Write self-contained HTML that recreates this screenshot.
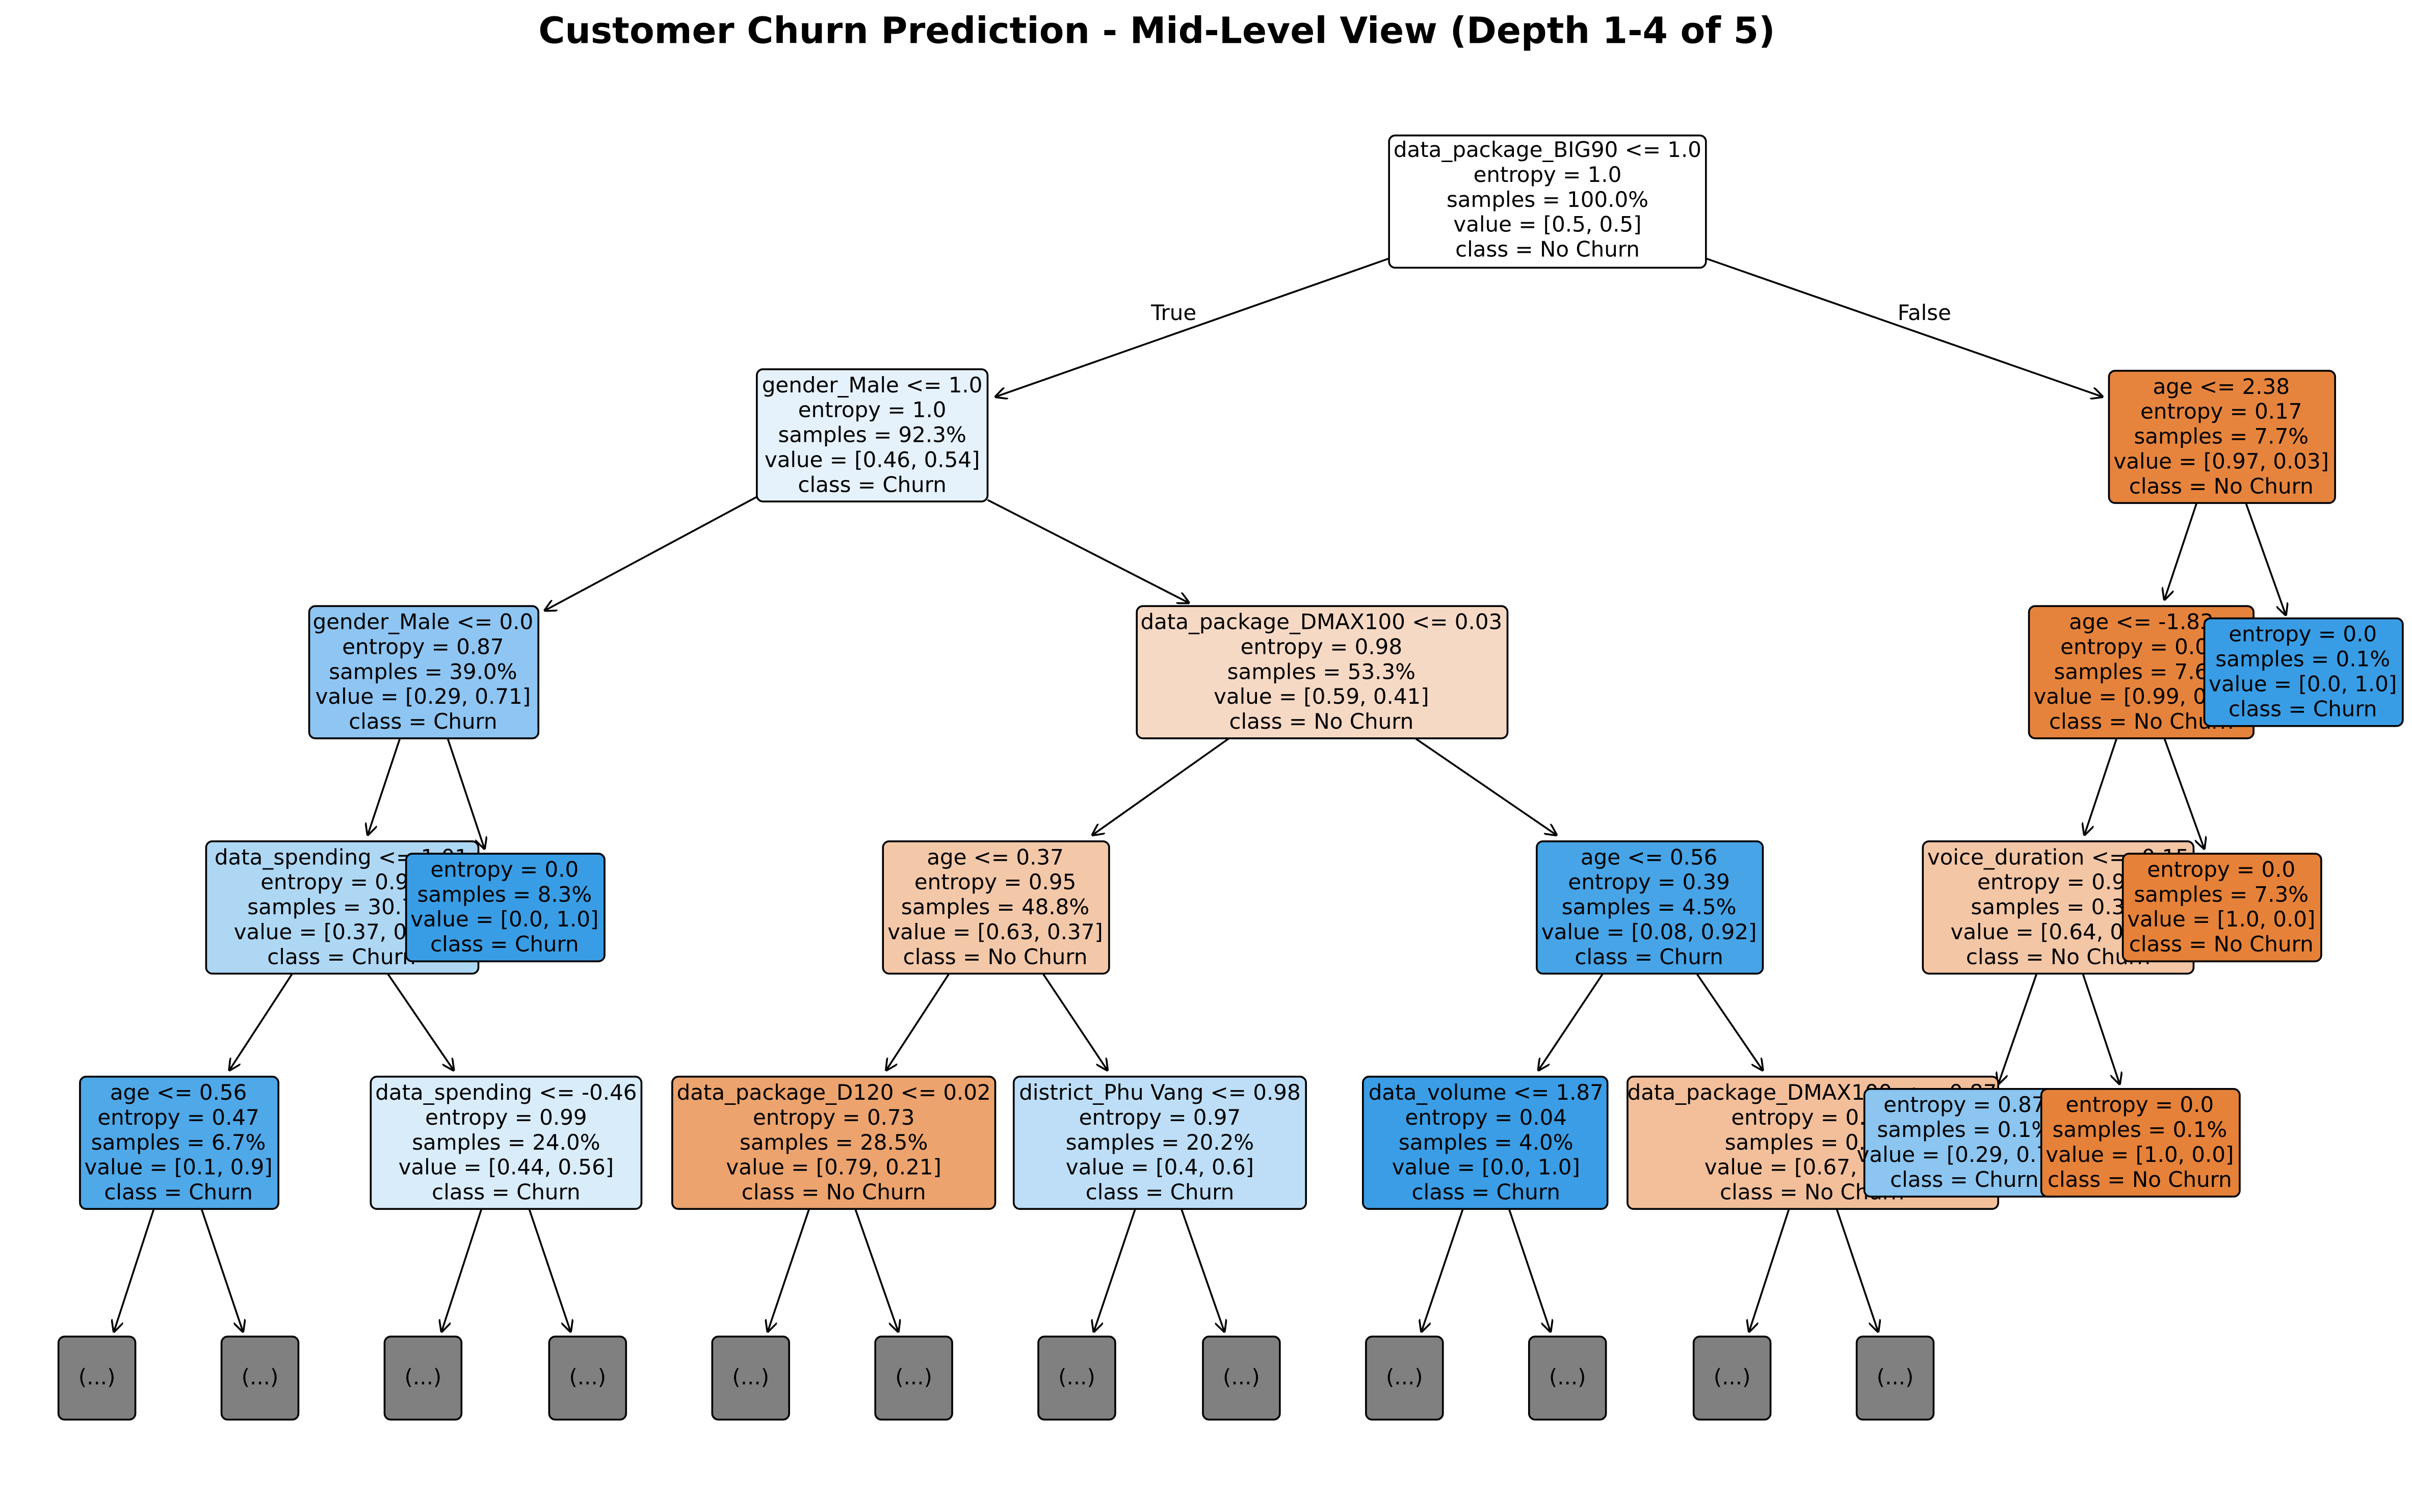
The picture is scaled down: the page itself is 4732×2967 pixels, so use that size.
<!DOCTYPE html>
<html><head><meta charset="utf-8"><style>
html,body{margin:0;padding:0;background:#fff;}
svg{display:block;}
text{font-family:"DejaVu Sans","Liberation Sans",sans-serif;font-size:13.9px;fill:#000;}
.b{stroke:#000;stroke-width:1.2;}
.e{stroke:#000;stroke-width:1.2;fill:none;marker-end:url(#ah);}
</style></head><body>
<svg width="4732" height="2967" viewBox="0 0 1568 983" xmlns="http://www.w3.org/2000/svg">
<defs><marker id="ah" viewBox="0 0 10 10" refX="9.5" refY="5" markerWidth="8" markerHeight="8" markerUnits="userSpaceOnUse" orient="auto"><path d="M0,0 L10,5 L0,10" fill="none" stroke="#000" stroke-width="1.5"/></marker></defs>
<text x="752" y="28" text-anchor="middle" style="font-size:23.5px;font-weight:bold">Customer Churn Prediction - Mid-Level View (Depth 1-4 of 5)</text>

<!-- edges -->
<line class="e" x1="903" y1="168" x2="647" y2="258"/>
<line class="e" x1="1109" y1="168" x2="1367" y2="258"/>
<text x="763" y="208" text-anchor="middle">True</text>
<text x="1251" y="208" text-anchor="middle">False</text>
<line class="e" x1="492" y1="323" x2="354" y2="397"/>
<line class="e" x1="642" y1="325" x2="773" y2="392"/>
<line class="e" x1="1428" y1="327" x2="1407" y2="390"/>
<line class="e" x1="1460" y1="327" x2="1486" y2="400"/>
<line class="e" x1="260" y1="480" x2="239" y2="543"/>
<line class="e" x1="291" y1="480" x2="315" y2="552"/>
<line class="e" x1="799" y1="480" x2="710" y2="543"/>
<line class="e" x1="920" y1="480" x2="1012" y2="543"/>
<line class="e" x1="1376" y1="480" x2="1355" y2="543"/>
<line class="e" x1="1407" y1="480" x2="1433" y2="552"/>
<line class="e" x1="190" y1="633" x2="149" y2="696"/>
<line class="e" x1="252" y1="633" x2="295" y2="696"/>
<line class="e" x1="617" y1="633" x2="576" y2="696"/>
<line class="e" x1="678" y1="633" x2="720" y2="696"/>
<line class="e" x1="1042" y1="633" x2="1000" y2="696"/>
<line class="e" x1="1103" y1="633" x2="1146" y2="696"/>
<line class="e" x1="1324" y1="633" x2="1299" y2="705"/>
<line class="e" x1="1354" y1="633" x2="1378" y2="705"/>
<line class="e" x1="100" y1="786" x2="74" y2="866"/>
<line class="e" x1="131" y1="786" x2="158" y2="866"/>
<line class="e" x1="313" y1="786" x2="287" y2="866"/>
<line class="e" x1="344" y1="786" x2="371" y2="866"/>
<line class="e" x1="526" y1="786" x2="499" y2="866"/>
<line class="e" x1="556" y1="786" x2="584" y2="866"/>
<line class="e" x1="738" y1="786" x2="711" y2="866"/>
<line class="e" x1="768" y1="786" x2="796" y2="866"/>
<line class="e" x1="951" y1="786" x2="924" y2="866"/>
<line class="e" x1="981" y1="786" x2="1008" y2="866"/>
<line class="e" x1="1163" y1="786" x2="1137" y2="866"/>
<line class="e" x1="1194" y1="786" x2="1221" y2="866"/>

<!-- nodes -->
<g>
<rect class="b" x="903" y="88" width="206" height="86" rx="4" fill="#ffffff"/>
<text x="1006" y="102" text-anchor="middle"><tspan x="1006">data_package_BIG90 &lt;= 1.0</tspan><tspan x="1006" dy="16.2">entropy = 1.0</tspan><tspan x="1006" dy="16.2">samples = 100.0%</tspan><tspan x="1006" dy="16.2">value = [0.5, 0.5]</tspan><tspan x="1006" dy="16.2">class = No Churn</tspan></text>
</g>
<g>
<rect class="b" x="492" y="240" width="150" height="86" rx="4" fill="#e5f1fb"/>
<text x="567" y="255" text-anchor="middle"><tspan x="567">gender_Male &lt;= 1.0</tspan><tspan x="567" dy="16.2">entropy = 1.0</tspan><tspan x="567" dy="16.2">samples = 92.3%</tspan><tspan x="567" dy="16.2">value = [0.46, 0.54]</tspan><tspan x="567" dy="16.2">class = Churn</tspan></text>
</g>
<g>
<rect class="b" x="1371" y="241" width="147" height="86" rx="4" fill="#e6843e"/>
<text x="1444" y="256" text-anchor="middle"><tspan x="1444">age &lt;= 2.38</tspan><tspan x="1444" dy="16.2">entropy = 0.17</tspan><tspan x="1444" dy="16.2">samples = 7.7%</tspan><tspan x="1444" dy="16.2">value = [0.97, 0.03]</tspan><tspan x="1444" dy="16.2">class = No Churn</tspan></text>
</g>
<g>
<rect class="b" x="201" y="394" width="149" height="86" rx="4" fill="#8ec5f2"/>
<text x="275" y="409" text-anchor="middle"><tspan x="275">gender_Male &lt;= 0.0</tspan><tspan x="275" dy="16.2">entropy = 0.87</tspan><tspan x="275" dy="16.2">samples = 39.0%</tspan><tspan x="275" dy="16.2">value = [0.29, 0.71]</tspan><tspan x="275" dy="16.2">class = Churn</tspan></text>
</g>
<g>
<rect class="b" x="739" y="394" width="241" height="86" rx="4" fill="#f6d9c4"/>
<text x="859" y="409" text-anchor="middle"><tspan x="859">data_package_DMAX100 &lt;= 0.03</tspan><tspan x="859" dy="16.2">entropy = 0.98</tspan><tspan x="859" dy="16.2">samples = 53.3%</tspan><tspan x="859" dy="16.2">value = [0.59, 0.41]</tspan><tspan x="859" dy="16.2">class = No Churn</tspan></text>
</g>
<g>
<rect class="b" x="1319" y="394" width="146" height="86" rx="4" fill="#e5833c"/>
<text x="1392" y="409" text-anchor="middle"><tspan x="1392">age &lt;= -1.83</tspan><tspan x="1392" dy="16.2">entropy = 0.08</tspan><tspan x="1392" dy="16.2">samples = 7.6%</tspan><tspan x="1392" dy="16.2">value = [0.99, 0.01]</tspan><tspan x="1392" dy="16.2">class = No Churn</tspan></text>
</g>
<g>
<rect class="b" x="1433" y="402" width="129" height="70" rx="4" fill="#399de5"/>
<text x="1497" y="417" text-anchor="middle"><tspan x="1497">entropy = 0.0</tspan><tspan x="1497" dy="16.2">samples = 0.1%</tspan><tspan x="1497" dy="16.2">value = [0.0, 1.0]</tspan><tspan x="1497" dy="16.2">class = Churn</tspan></text>
</g>
<g>
<rect class="b" x="134" y="547" width="177" height="86" rx="4" fill="#aed7f4"/>
<text x="222" y="562" text-anchor="middle"><tspan x="222">data_spending &lt;= 1.01</tspan><tspan x="222" dy="16.2">entropy = 0.95</tspan><tspan x="222" dy="16.2">samples = 30.7%</tspan><tspan x="222" dy="16.2">value = [0.37, 0.63]</tspan><tspan x="222" dy="16.2">class = Churn</tspan></text>
</g>
<g>
<rect class="b" x="264" y="555" width="129" height="70" rx="4" fill="#399de5"/>
<text x="328" y="570" text-anchor="middle"><tspan x="328">entropy = 0.0</tspan><tspan x="328" dy="16.2">samples = 8.3%</tspan><tspan x="328" dy="16.2">value = [0.0, 1.0]</tspan><tspan x="328" dy="16.2">class = Churn</tspan></text>
</g>
<g>
<rect class="b" x="574" y="547" width="147" height="86" rx="4" fill="#f3c8a8"/>
<text x="647" y="562" text-anchor="middle"><tspan x="647">age &lt;= 0.37</tspan><tspan x="647" dy="16.2">entropy = 0.95</tspan><tspan x="647" dy="16.2">samples = 48.8%</tspan><tspan x="647" dy="16.2">value = [0.63, 0.37]</tspan><tspan x="647" dy="16.2">class = No Churn</tspan></text>
</g>
<g>
<rect class="b" x="999" y="547" width="147" height="86" rx="4" fill="#47a4e7"/>
<text x="1072" y="562" text-anchor="middle"><tspan x="1072">age &lt;= 0.56</tspan><tspan x="1072" dy="16.2">entropy = 0.39</tspan><tspan x="1072" dy="16.2">samples = 4.5%</tspan><tspan x="1072" dy="16.2">value = [0.08, 0.92]</tspan><tspan x="1072" dy="16.2">class = Churn</tspan></text>
</g>
<g>
<rect class="b" x="1250" y="547" width="176" height="86" rx="4" fill="#f3c6a5"/>
<text x="1338" y="562" text-anchor="middle"><tspan x="1338">voice_duration &lt;= -0.15</tspan><tspan x="1338" dy="16.2">entropy = 0.94</tspan><tspan x="1338" dy="16.2">samples = 0.3%</tspan><tspan x="1338" dy="16.2">value = [0.64, 0.36]</tspan><tspan x="1338" dy="16.2">class = No Churn</tspan></text>
</g>
<g>
<rect class="b" x="1380" y="555" width="129" height="70" rx="4" fill="#e58139"/>
<text x="1444" y="570" text-anchor="middle"><tspan x="1444">entropy = 0.0</tspan><tspan x="1444" dy="16.2">samples = 7.3%</tspan><tspan x="1444" dy="16.2">value = [1.0, 0.0]</tspan><tspan x="1444" dy="16.2">class = No Churn</tspan></text>
</g>
<g>
<rect class="b" x="52" y="700" width="129" height="86" rx="4" fill="#4fa8e8"/>
<text x="116" y="715" text-anchor="middle"><tspan x="116">age &lt;= 0.56</tspan><tspan x="116" dy="16.2">entropy = 0.47</tspan><tspan x="116" dy="16.2">samples = 6.7%</tspan><tspan x="116" dy="16.2">value = [0.1, 0.9]</tspan><tspan x="116" dy="16.2">class = Churn</tspan></text>
</g>
<g>
<rect class="b" x="241" y="700" width="176" height="86" rx="4" fill="#d8ecfa"/>
<text x="329" y="715" text-anchor="middle"><tspan x="329">data_spending &lt;= -0.46</tspan><tspan x="329" dy="16.2">entropy = 0.99</tspan><tspan x="329" dy="16.2">samples = 24.0%</tspan><tspan x="329" dy="16.2">value = [0.44, 0.56]</tspan><tspan x="329" dy="16.2">class = Churn</tspan></text>
</g>
<g>
<rect class="b" x="437" y="700" width="210" height="86" rx="4" fill="#eca36e"/>
<text x="542" y="715" text-anchor="middle"><tspan x="542">data_package_D120 &lt;= 0.02</tspan><tspan x="542" dy="16.2">entropy = 0.73</tspan><tspan x="542" dy="16.2">samples = 28.5%</tspan><tspan x="542" dy="16.2">value = [0.79, 0.21]</tspan><tspan x="542" dy="16.2">class = No Churn</tspan></text>
</g>
<g>
<rect class="b" x="659" y="700" width="190" height="86" rx="4" fill="#bddef6"/>
<text x="754" y="715" text-anchor="middle"><tspan x="754">district_Phu Vang &lt;= 0.98</tspan><tspan x="754" dy="16.2">entropy = 0.97</tspan><tspan x="754" dy="16.2">samples = 20.2%</tspan><tspan x="754" dy="16.2">value = [0.4, 0.6]</tspan><tspan x="754" dy="16.2">class = Churn</tspan></text>
</g>
<g>
<rect class="b" x="886" y="700" width="159" height="86" rx="4" fill="#3a9de5"/>
<text x="966" y="715" text-anchor="middle"><tspan x="966">data_volume &lt;= 1.87</tspan><tspan x="966" dy="16.2">entropy = 0.04</tspan><tspan x="966" dy="16.2">samples = 4.0%</tspan><tspan x="966" dy="16.2">value = [0.0, 1.0]</tspan><tspan x="966" dy="16.2">class = Churn</tspan></text>
</g>
<g>
<rect class="b" x="1058" y="700" width="241" height="86" rx="4" fill="#f2bf9a"/>
<text x="1178" y="715" text-anchor="middle"><tspan x="1178">data_package_DMAX100 &lt;= -0.87</tspan><tspan x="1178" dy="16.2">entropy = 0.91</tspan><tspan x="1178" dy="16.2">samples = 0.2%</tspan><tspan x="1178" dy="16.2">value = [0.67, 0.33]</tspan><tspan x="1178" dy="16.2">class = No Churn</tspan></text>
</g>
<g>
<rect class="b" x="1212" y="708" width="130" height="70" rx="4" fill="#8bc5f0"/>
<text x="1277" y="723" text-anchor="middle"><tspan x="1277">entropy = 0.87</tspan><tspan x="1277" dy="16.2">samples = 0.1%</tspan><tspan x="1277" dy="16.2">value = [0.29, 0.71]</tspan><tspan x="1277" dy="16.2">class = Churn</tspan></text>
</g>
<g>
<rect class="b" x="1327" y="708" width="129" height="70" rx="4" fill="#e58139"/>
<text x="1391" y="723" text-anchor="middle"><tspan x="1391">entropy = 0.0</tspan><tspan x="1391" dy="16.2">samples = 0.1%</tspan><tspan x="1391" dy="16.2">value = [1.0, 0.0]</tspan><tspan x="1391" dy="16.2">class = No Churn</tspan></text>
</g>

<!-- ellipsis boxes -->
<g fill="#808080">
<rect class="b" x="38" y="869" width="50" height="54" rx="4"/>
<rect class="b" x="144" y="869" width="50" height="54" rx="4"/>
<rect class="b" x="250" y="869" width="50" height="54" rx="4"/>
<rect class="b" x="357" y="869" width="50" height="54" rx="4"/>
<rect class="b" x="463" y="869" width="50" height="54" rx="4"/>
<rect class="b" x="569" y="869" width="50" height="54" rx="4"/>
<rect class="b" x="675" y="869" width="50" height="54" rx="4"/>
<rect class="b" x="782" y="869" width="50" height="54" rx="4"/>
<rect class="b" x="888" y="869" width="50" height="54" rx="4"/>
<rect class="b" x="994" y="869" width="50" height="54" rx="4"/>
<rect class="b" x="1101" y="869" width="50" height="54" rx="4"/>
<rect class="b" x="1207" y="869" width="50" height="54" rx="4"/>
</g>
<g text-anchor="middle">
<text x="63" y="900">(...)</text><text x="169" y="900">(...)</text><text x="275" y="900">(...)</text><text x="382" y="900">(...)</text>
<text x="488" y="900">(...)</text><text x="594" y="900">(...)</text><text x="700" y="900">(...)</text><text x="807" y="900">(...)</text>
<text x="913" y="900">(...)</text><text x="1019" y="900">(...)</text><text x="1126" y="900">(...)</text><text x="1232" y="900">(...)</text>
</g>
</svg>
</body></html>
